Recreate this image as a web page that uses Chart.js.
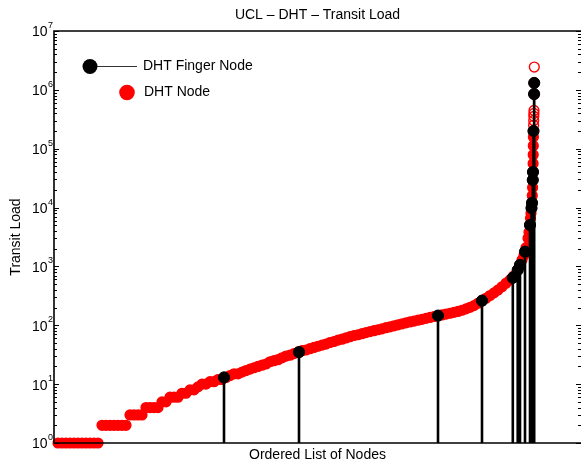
<!DOCTYPE html>
<html>
<head>
<meta charset="utf-8">
<script src="https://cdn.jsdelivr.net/npm/chart.js@4.4.1/dist/chart.umd.min.js"></script>
<style>
  html, body { margin: 0; padding: 0; background: #ffffff; }
  #wrap { width: 581px; height: 464px; }
</style>
</head>
<body>
<div id="wrap"><canvas id="chart" width="581" height="464"></canvas></div>
<script>
// Nodes ordered by transit load (rank along the x axis)
const nodeRank = [
  40, 80, 120, 160, 200, 240, 280, 320, 360, 400,
  440, 480, 520, 560, 600, 640, 680, 720, 760, 800,
  840, 880, 920, 960, 1000, 1040, 1080, 1120, 1160, 1200,
  1240, 1280, 1320, 1360, 1400, 1440, 1480, 1520, 1560, 1600,
  1640, 1680, 1720, 1760, 1800, 1840, 1880, 1920, 1960, 2000,
  2040, 2080, 2120, 2160, 2200, 2240, 2280, 2320, 2360, 2400,
  2440, 2480, 2520, 2560, 2600, 2640, 2680, 2720, 2760, 2800,
  2840, 2880, 2920, 2960, 3000, 3040, 3080, 3120, 3160, 3200,
  3240, 3280, 3320, 3360, 3400, 3440, 3480, 3520, 3560, 3600,
  3640, 3680, 3720, 3760, 3800, 3840, 3880, 3920, 3960, 4000,
  4040, 4080, 4120, 4160, 4200, 4240, 4280, 4320, 4360, 4400,
  4440, 4480, 4520, 4560,
  4600, 4640, 4660, 4680, 4700, 4720, 4740, 4750, 4760, 4765,
  4770, 4775, 4780, 4783, 4786, 4788, 4790, 4791, 4792, 4793,
  4794, 4795, 4796, 4797, 4798, 4799, 4800, 4801, 4802, 4803
];

// Transit load of every DHT node
const transitLoad = [
  1, 1, 1, 1, 1, 1, 1, 1, 1, 1,
  1, 2, 2, 2, 2, 2, 2, 2, 3, 3,
  3, 3, 4, 4, 4, 4, 5, 5, 6, 6,
  6, 7, 7, 8, 8, 9, 10, 10, 11, 11,
  12, 12, 13, 14, 15, 15, 16, 17, 18, 19,
  20, 21, 22, 24, 25, 26, 28, 30, 31, 33,
  35, 37, 38, 40, 42, 44, 46, 48, 51, 53,
  56, 58, 61, 64, 67, 69, 72, 75, 78, 81,
  84, 87, 91, 94, 98, 102, 106, 110, 114, 118,
  122, 126, 131, 136, 141, 146, 150, 155, 160, 166,
  172, 180, 190, 202, 216, 237, 262, 288, 320, 355,
  398, 452, 519, 589,
  695, 890, 1060, 1290, 1550, 2090, 3020, 3800, 5060, 6600,
  8000, 9800, 12000, 16000, 22000, 29400, 40200, 56000, 79000, 112000,
  158000, 200000, 251000, 302000, 355000, 398000, 447000, 849000, 1310000, 2440000
];

// DHT finger nodes (a subset of the nodes above)
const fingerRank = [1700, 2450, 3840, 4280, 4588, 4637, 4660, 4710, 4760, 4775, 4780, 4788, 4790, 4795, 4801, 4802];
const fingerLoad = [13, 35, 146, 262, 643, 869, 1060, 1780, 5060, 9800, 12000, 29400, 40200, 200000, 849000, 1310000];

// Decade ticks of the log axis, labelled 10^n
const yTickExponents = [0, 1, 2, 3, 4, 5, 6, 7];

const seriesNames = ['DHT Finger Node', 'DHT Node'];
const chartTitle = 'UCL \u2013 DHT \u2013 Transit Load';
const xTitle = 'Ordered List of Nodes';
const yTitle = 'Transit Load';

const FONT = '"Liberation Sans", Arial, Helvetica, sans-serif';
const RED = '#ff0000';
const BLACK = '#000000';

const nodePoints = nodeRank.map((r, i) => ({ x: r, y: transitLoad[i] }));
const fingerPoints = fingerRank.map((r, i) => ({ x: r, y: fingerLoad[i] }));
// Stems: a vertical segment from the bottom of the axis up to each finger node
const stemPoints = [];
fingerRank.forEach((r, i) => {
  stemPoints.push({ x: r, y: 1 }, { x: r, y: fingerLoad[i] }, { x: r, y: null });
});

// Axis box, inward tick marks on both sides, 10^n labels and the legend
const framePlugin = {
  id: 'frame',
  afterDatasetsDraw(chart) {
    const { ctx, chartArea: a, scales: { y } } = chart;
    ctx.save();
    ctx.strokeStyle = BLACK;

    // ticks
    ctx.lineWidth = 1;
    ctx.beginPath();
    yTickExponents.forEach((e) => {
      const py = Math.round(y.getPixelForValue(Math.pow(10, e))) + 0.5;
      ctx.moveTo(a.left, py); ctx.lineTo(a.left + 5, py);
      ctx.moveTo(a.right, py); ctx.lineTo(a.right - 5, py);
      if (e < yTickExponents[yTickExponents.length - 1]) {
        for (let m = 2; m <= 9; m++) {
          const pm = Math.round(y.getPixelForValue(m * Math.pow(10, e))) + 0.5;
          ctx.moveTo(a.left, pm); ctx.lineTo(a.left + 3, pm);
          ctx.moveTo(a.right, pm); ctx.lineTo(a.right - 3, pm);
        }
      }
    });
    ctx.stroke();

    // box
    ctx.lineWidth = 1.6;
    ctx.beginPath();
    ctx.moveTo(a.right + 2, a.top); ctx.lineTo(a.left, a.top);
    ctx.lineTo(a.left, a.bottom); ctx.lineTo(a.right + 2, a.bottom);
    ctx.stroke();

    // tick labels
    ctx.fillStyle = BLACK;
    yTickExponents.forEach((e) => {
      const py = y.getPixelForValue(Math.pow(10, e));
      ctx.font = '14px ' + FONT;
      ctx.textAlign = 'right';
      ctx.textBaseline = 'middle';
      ctx.fillText('10', a.left - 6.5, py + 1.5);
      ctx.font = '9px ' + FONT;
      ctx.textAlign = 'left';
      ctx.fillText(String(e), a.left - 6, py - 5.5);
    });

    // legend
    ctx.strokeStyle = '#333333';
    ctx.lineWidth = 1;
    ctx.beginPath();
    ctx.moveTo(90, 66.5); ctx.lineTo(137, 66.5);
    ctx.stroke();
    ctx.fillStyle = BLACK;
    ctx.beginPath(); ctx.arc(90, 66.5, 7.5, 0, Math.PI * 2); ctx.fill();
    ctx.fillStyle = RED;
    ctx.beginPath(); ctx.arc(127, 92.5, 7.8, 0, Math.PI * 2); ctx.fill();
    ctx.fillStyle = BLACK;
    ctx.font = '14px ' + FONT;
    ctx.textAlign = 'left';
    ctx.textBaseline = 'middle';
    ctx.fillText(seriesNames[0], 143, 66);
    ctx.fillText(seriesNames[1], 144, 92.5);
    ctx.restore();
  }
};

new Chart(document.getElementById('chart'), {
  type: 'scatter',
  data: {
    datasets: [
      {
        label: seriesNames[0],
        data: fingerPoints,
        order: 1,
        showLine: false,
        pointRadius: 5.6,
        pointBorderWidth: 1,
        pointBackgroundColor: BLACK,
        pointBorderColor: BLACK,
        clip: false
      },
      {
        label: 'stems',
        data: stemPoints,
        order: 2,
        showLine: true,
        spanGaps: false,
        pointRadius: 0,
        borderColor: BLACK,
        borderWidth: 2.6,
        clip: false
      },
      {
        label: seriesNames[1],
        data: nodePoints,
        order: 3,
        showLine: false,
        pointRadius: 4.9,
        pointBorderWidth: 1.4,
        pointBorderColor: RED,
        // sparse points at the very top show as open circles
        pointBackgroundColor: (c) => (c.raw && c.raw.y > 220000 ? 'rgba(255,255,255,0)' : RED),
        clip: false
      }
    ]
  },
  options: {
    responsive: false,
    animation: false,
    devicePixelRatio: 1,
    events: [],
    layout: { padding: 0, autoPadding: false },
    plugins: {
      legend: { display: false },
      tooltip: { enabled: false },
      title: {
        display: true,
        text: chartTitle,
        fullSize: false,
        color: BLACK,
        font: { family: FONT, size: 14, weight: 'normal' },
        padding: { top: 7, bottom: 7.2 }
      }
    },
    scales: {
      x: {
        type: 'linear',
        min: 0,
        max: 5270,
        grid: { display: false, drawTicks: false },
        border: { display: false },
        ticks: { display: false },
        title: {
          display: true,
          text: xTitle,
          color: BLACK,
          font: { family: FONT, size: 14 },
          padding: { top: 0, bottom: 0 }
        },
        afterFit: (s) => { s.height = 21; }
      },
      y: {
        type: 'logarithmic',
        min: 1,
        max: 1e7,
        grid: { display: false, drawTicks: false },
        border: { display: false },
        ticks: { display: false },
        title: {
          display: true,
          text: yTitle,
          color: BLACK,
          font: { family: FONT, size: 14 },
          padding: { top: 7.6, bottom: 0 }
        },
        afterFit: (s) => { s.width = 54; }
      }
    }
  },
  plugins: [framePlugin]
});
</script>
</body>
</html>
